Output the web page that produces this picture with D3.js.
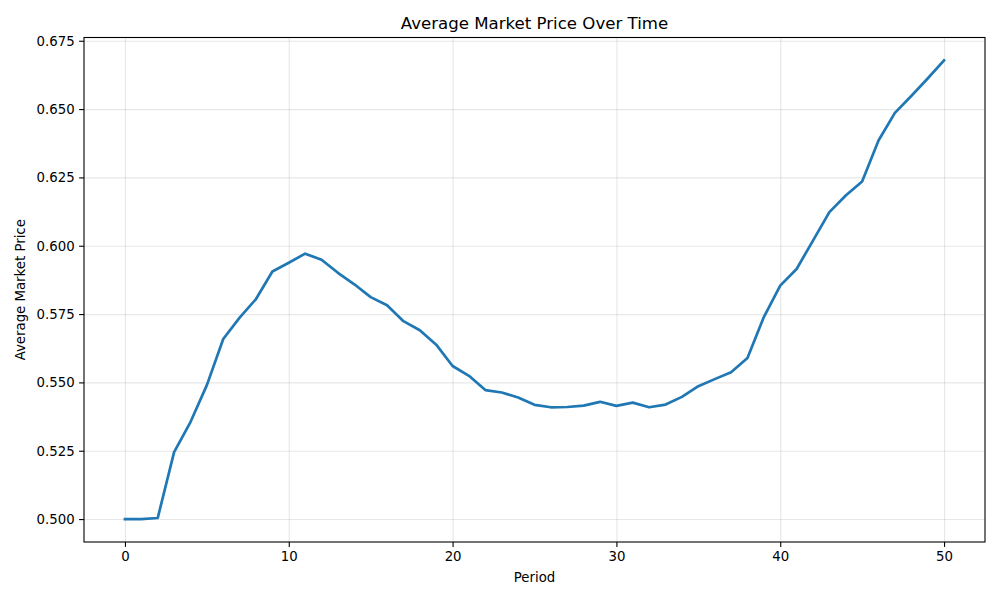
<!DOCTYPE html>
<html>
<head>
<meta charset="utf-8">
<script src="https://cdn.jsdelivr.net/npm/d3@7"></script>
<style>
  body { margin: 0; background: #fff; }
  text { font-family: "DejaVu Sans", sans-serif; fill: #000; }
  .tick text { font-size: 13.3px; }
  .axisLabel { font-size: 13.3px; }
  .title { font-size: 16.6px; }
  .grid line { stroke: #b0b0b0; stroke-opacity: 0.3; stroke-width: 1.1px; }
  .grid .domain { display: none; }
</style>
</head>
<body>
<svg id="chart"></svg>
<script>
// chart data
var periods = d3.range(0, 51);
var avgPrice = [
  0.5000, 0.5000, 0.5004, 0.5245, 0.5355, 0.5490, 0.5659, 0.5737, 0.5805, 0.5906,
  0.5938, 0.5971, 0.5949, 0.5901, 0.5859, 0.5812, 0.5782, 0.5724, 0.5691, 0.5638,
  0.5560, 0.5524, 0.5472, 0.5463, 0.5445, 0.5418, 0.5409, 0.5410, 0.5415, 0.5429,
  0.5414, 0.5426, 0.5409, 0.5419, 0.5447, 0.5486, 0.5512, 0.5537, 0.5589, 0.5739,
  0.5854, 0.5915, 0.6019, 0.6123, 0.6184, 0.6235, 0.6385, 0.6486, 0.6548, 0.6612,
  0.6678
];
var xTicks = [0, 10, 20, 30, 40, 50];
var yTicks = [0.500, 0.525, 0.550, 0.575, 0.600, 0.625, 0.650, 0.675];

// set the dimensions and margins of the graph
var margin = { top: 37.5, right: 15, bottom: 58, left: 84 },
  width = 1000 - margin.left - margin.right,
  height = 600 - margin.top - margin.bottom;

var svg = d3.select("#chart")
  .attr("width", 1000)
  .attr("height", 600);

var g = svg.append("g")
  .attr("transform", "translate(" + margin.left + "," + margin.top + ")");

// matplotlib style 5% padding around the data
var xPad = (d3.max(periods) - d3.min(periods)) * 0.05;
var yMin = d3.min(avgPrice), yMax = d3.max(avgPrice);
var yPad = (yMax - yMin) * 0.05;

var x = d3.scaleLinear()
  .domain([d3.min(periods) - xPad, d3.max(periods) + xPad])
  .range([0, width]);
var y = d3.scaleLinear()
  .domain([yMin - yPad, yMax + yPad])
  .range([height, 0]);

// grid
g.append("g")
  .attr("class", "grid")
  .attr("transform", "translate(0," + height + ")")
  .call(d3.axisBottom(x).tickValues(xTicks).tickSize(-height).tickFormat(""));
g.append("g")
  .attr("class", "grid")
  .call(d3.axisLeft(y).tickValues(yTicks).tickSize(-width).tickFormat(""));

// the line
var valueline = d3.line()
  .x(function(d, i) { return x(periods[i]); })
  .y(function(d) { return y(d); });

g.append("path")
  .datum(avgPrice)
  .attr("fill", "none")
  .attr("stroke", "#1f77b4")
  .attr("stroke-width", 2.7)
  .attr("stroke-linejoin", "round")
  .attr("stroke-linecap", "square")
  .attr("d", valueline);

// axes
var xAxis = g.append("g")
  .attr("transform", "translate(0," + height + ")")
  .call(d3.axisBottom(x).tickValues(xTicks).tickSize(4.9).tickPadding(4.5).tickFormat(d3.format("d")));
var yAxis = g.append("g")
  .call(d3.axisLeft(y).tickValues(yTicks).tickSize(4.9).tickPadding(4.5).tickFormat(d3.format(".3f")));

[xAxis, yAxis].forEach(function(a) {
  a.select(".domain").remove();
  a.selectAll(".tick line").attr("stroke", "#000").attr("stroke-width", 1.1);
  a.selectAll(".tick text").attr("fill", "#000");
});

// frame
g.append("rect")
  .attr("width", width)
  .attr("height", height)
  .attr("fill", "none")
  .attr("stroke", "#000")
  .attr("stroke-width", 1.1);

// labels
svg.append("text")
  .attr("class", "title")
  .attr("x", margin.left + width / 2)
  .attr("y", 29)
  .style("text-anchor", "middle")
  .text("Average Market Price Over Time");

svg.append("text")
  .attr("class", "axisLabel")
  .attr("x", margin.left + width / 2)
  .attr("y", 582)
  .style("text-anchor", "middle")
  .text("Period");

svg.append("text")
  .attr("class", "axisLabel")
  .attr("transform", "rotate(-90)")
  .attr("x", -(margin.top + height / 2))
  .attr("y", 25)
  .style("text-anchor", "middle")
  .text("Average Market Price");
</script>
</body>
</html>
